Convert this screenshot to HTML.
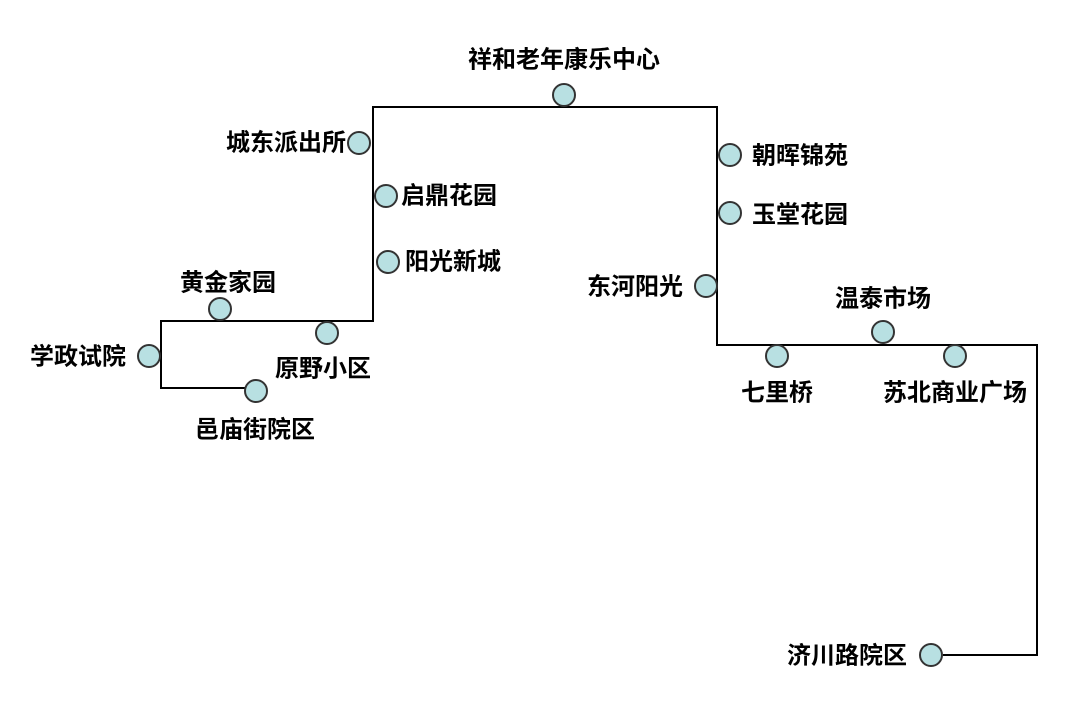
<!DOCTYPE html>
<html><head><meta charset="utf-8"><style>
body{margin:0;background:#fff;}
svg text{font-family:"Liberation Sans","Noto Sans CJK SC",sans-serif;font-weight:bold;font-size:24px;fill:#000;dominant-baseline:central;}
</style></head><body>
<svg width="1080" height="708" xmlns="http://www.w3.org/2000/svg">
<g fill="none" stroke="#000" stroke-width="2">
<polyline points="245,388 161,388 161,321 373,321 373,107 717,107 717,345 1037,345 1037,655 943,655"/>
</g>
<g fill="#b8e0e2" stroke="#333" stroke-width="2">
<circle cx="564" cy="95" r="11"/>
<circle cx="359" cy="143" r="11"/>
<circle cx="386" cy="196" r="11"/>
<circle cx="388" cy="262" r="11"/>
<circle cx="220" cy="309" r="11"/>
<circle cx="327" cy="333" r="11"/>
<circle cx="149" cy="356" r="11"/>
<circle cx="256" cy="391" r="11"/>
<circle cx="730" cy="155" r="11"/>
<circle cx="730" cy="213" r="11"/>
<circle cx="706" cy="286" r="11"/>
<circle cx="883" cy="332" r="11"/>
<circle cx="777" cy="356" r="11"/>
<circle cx="955" cy="356" r="11"/>
<circle cx="931" cy="655" r="11"/>
</g>
<text x="564" y="60" text-anchor="middle">祥和老年康乐中心</text>
<text x="346" y="143" text-anchor="end">城东派出所</text>
<text x="401" y="196">启鼎花园</text>
<text x="405" y="262">阳光新城</text>
<text x="228" y="283" text-anchor="middle">黄金家园</text>
<text x="30" y="357">学政试院</text>
<text x="275" y="369">原野小区</text>
<text x="195" y="430">邑庙街院区</text>
<text x="752" y="156">朝晖锦苑</text>
<text x="752" y="215">玉堂花园</text>
<text x="683" y="287" text-anchor="end">东河阳光</text>
<text x="883" y="299" text-anchor="middle">温泰市场</text>
<text x="741" y="393">七里桥</text>
<text x="883" y="393">苏北商业广场</text>
<text x="907" y="656" text-anchor="end">济川路院区</text>
</svg>
</body></html>
